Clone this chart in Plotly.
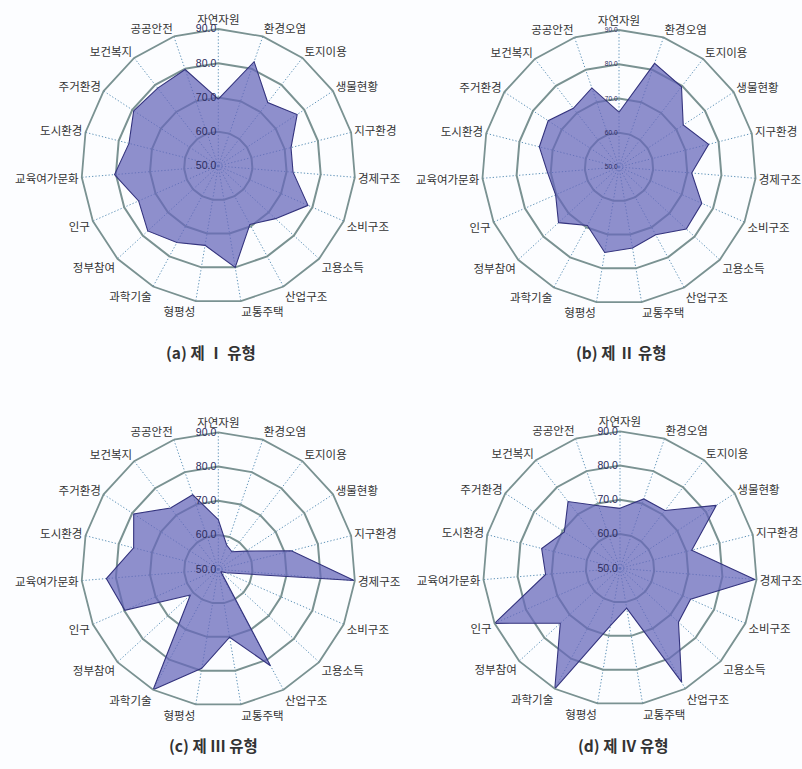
import plotly.graph_objects as go

categories = ["자연자원", "환경오염", "토지이용", "생물현황", "지구환경", "경제구조",
              "소비구조", "고용소득", "산업구조", "교통주택", "형평성", "과학기술",
              "정부참여", "인구", "교육여가문화", "도시환경", "주거환경", "보건복지", "공공안전"]

type_1 = [69.5, 82.2, 73.5, 77.5, 71.9, 71.9, 78.6, 72.7, 69.4, 80.0,
          73.5, 75.4, 78.0, 75.4, 80.4, 76.9, 79.5, 78.8, 79.8]
type_2 = [66.0, 82.0, 79.7, 72.4, 77.0, 71.3, 76.4, 76.7, 72.5, 74.0,
          75.3, 69.4, 74.0, 70.2, 70.9, 74.0, 74.7, 71.7, 74.4]
type_3 = [64.5, 57.5, 56.5, 59.7, 72.0, 89.8, 52.5, 51.0, 82.0, 70.1,
          79.3, 90.0, 61.1, 79.8, 82.8, 75.5, 79.5, 72.7, 73.0]
type_4 = [67.5, 71.4, 71.4, 83.6, 71.6, 89.5, 72.5, 73.2, 87.8, 61.8,
          67.0, 90.0, 73.7, 90.0, 71.8, 73.6, 69.4, 74.7, 69.3]

radial_ticks = [50, 60, 70, 80, 90]
radial_ticktext = ["50.0", "60.0", "70.0", "80.0", "90.0"]
captions = ["(a) 제 Ⅰ 유형", "(b) 제 Ⅱ 유형", "(c) 제 Ⅲ 유형", "(d) 제 Ⅳ 유형"]

W, H = 802, 769
R = 137
centers = [(218.3, 166.0), (619.0, 167.0), (218.3, 569.3), (620.0, 568.3)]
caption_pos = [(211, 352), (621, 352), (214, 745), (623, 745)]
tick_sizes = [10.5, 6.5, 10.5, 10.5]
series = [type_1, type_2, type_3, type_4]

fig = go.Figure()

for i, (vals, (cx, cy)) in enumerate(zip(series, centers)):
    sub = "polar" if i == 0 else f"polar{i+1}"
    fig.add_trace(go.Scatterpolar(
        r=vals + [vals[0]], theta=categories + [categories[0]],
        mode="lines", fill="toself",
        fillcolor="rgba(104,104,186,0.74)",
        line=dict(color="#34347e", width=1.1),
        subplot=sub, showlegend=False, hoverinfo="skip"))
    fig.add_trace(go.Scatterpolar(
        r=[50], theta=[categories[0]], mode="markers",
        marker=dict(symbol="square-open-dot", size=8, color="#222222",
                    line=dict(width=1, color="#222222")),
        subplot=sub, showlegend=False, hoverinfo="skip"))
    dom_x = [(cx - R) / W, (cx + R) / W]
    dom_y = [1 - (cy + R) / H, 1 - (cy - R) / H]
    fig.update_layout(**{sub: dict(
        domain=dict(x=dom_x, y=dom_y),
        bgcolor="rgba(0,0,0,0)",
        gridshape="linear",
        radialaxis=dict(range=[50, 90], tickvals=radial_ticks, ticktext=radial_ticktext,
                        angle=90, tickangle=90, side="counterclockwise",
                        showline=False, ticks="",
                        gridcolor="#7a9292", gridwidth=1.5,
                        tickfont=dict(family="Liberation Sans, Arial", size=tick_sizes[i], color="#2b2b5c"),
                        layer="above traces"),
        angularaxis=dict(rotation=90, direction="clockwise",
                         gridcolor="#5f93b8", griddash="1.3px,2px", gridwidth=1.3,
                         showline=True, linecolor="#7a9292", linewidth=1.8,
                         ticks="",
                         tickfont=dict(family="Noto Sans CJK KR", size=11.5, color="#333333")),
    )})

annotations = []
for cap, (x, y) in zip(captions, caption_pos):
    annotations.append(dict(text="<b>" + cap + "</b>", x=x / W, y=1 - y / H, xref="paper", yref="paper",
                            showarrow=False, xanchor="center", yanchor="middle",
                            font=dict(family="Noto Sans CJK KR", size=15.5, color="#333333")))

fig.update_layout(width=W, height=H, margin=dict(l=0, r=0, t=0, b=0),
                  paper_bgcolor="#fcfdff", plot_bgcolor="#fcfdff",
                  annotations=annotations)

fig.write_html("out.html")
